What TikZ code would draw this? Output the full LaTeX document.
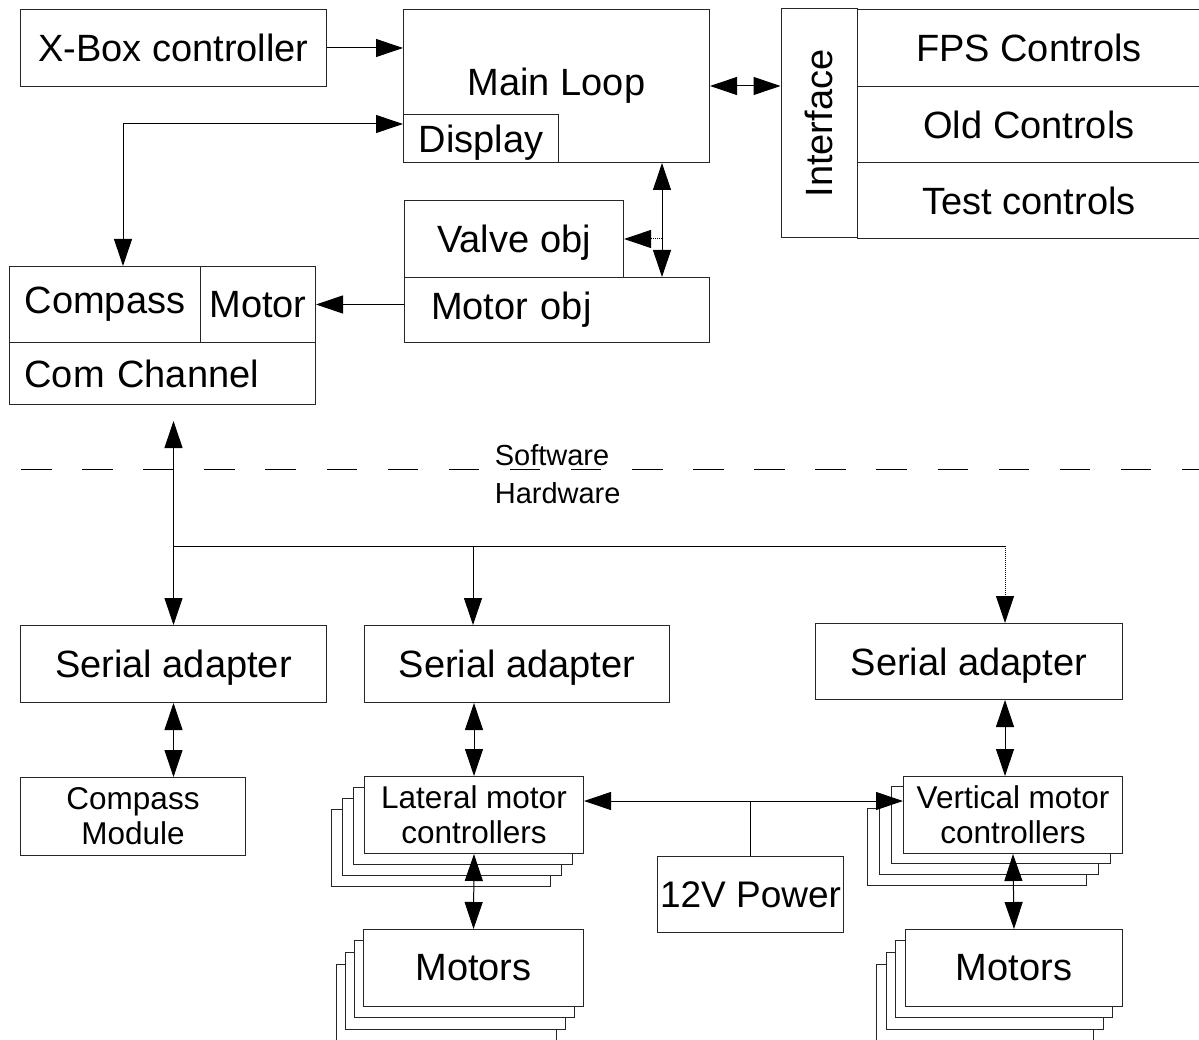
\documentclass[tikz,border=0pt]{standalone}
\usepackage{fontspec}
\setmainfont{Liberation Sans}
\usetikzlibrary{arrows.meta}

\begin{document}
\begin{tikzpicture}[x=1pt, y=-1pt, line width=1pt,
  >={Triangle[length=27pt,width=18pt]},
  blk/.style={draw=black!85, fill=white, inner sep=0pt, anchor=north west,
    font=\fontsize{38}{42}\selectfont},
  small/.style={font=\fontsize{31.5}{35}\selectfont, align=center},
  layer/.style={draw=black!85, fill=white}
  ]
  \clip (0,0) rectangle (1199,1040);

  % software side
  \node[blk, minimum width=306pt, minimum height=77pt] (xbox) at (20,9) {X-Box controller};
  \node[blk, minimum width=306pt, minimum height=153pt] (mainloop) at (403,9) {Main Loop};
  \node[blk, minimum width=155pt, minimum height=48pt, text depth=0pt] (display) at (403,114) {Display};
  \node[draw=black!85, inner sep=0pt, rotate=90, minimum width=229pt, minimum height=76pt,
    font=\fontsize{38}{42}\selectfont] (iface) at (819,123.5) {Interface};
  \node[blk, minimum width=343pt, minimum height=77pt] (fps) at (857,9) {FPS Controls};
  \node[blk, minimum width=343pt, minimum height=76pt] (oldc) at (857,86) {Old Controls};
  \node[blk, minimum width=343pt, minimum height=76pt] (testc) at (857,162) {Test controls};
  \node[blk, minimum width=219pt, minimum height=77pt, text depth=0pt] (valve) at (404,200) {Valve obj};
  \node[blk, minimum width=305pt, minimum height=65pt, text width=252pt, inner xsep=26.5pt,
    align=left] (motorobj) at (404,277) {Motor obj};
  \node[blk, minimum width=191pt, minimum height=76pt] (compass) at (9,266) {Compass};
  \node[blk, minimum width=115pt, minimum height=76pt] (motorc) at (200,266) {Motor};
  \node[blk, minimum width=306pt, minimum height=62pt, text width=276pt, inner xsep=15pt,
    align=left] (comch) at (9,342) {Com Channel};

  \draw[dash pattern=on 30.5pt off 30.6pt] (21,469) -- (1199,469);
  \node[font=\fontsize{29}{38}\selectfont, align=left, anchor=west] (swhw) at (491,474) {Software\\Hardware};

  % hardware side
  \node[blk, minimum width=306pt, minimum height=77pt, text depth=0pt] (serial1) at (20,625) {Serial adapter};
  \node[blk, minimum width=305pt, minimum height=77pt, text depth=0pt] (serial2) at (364,625) {Serial adapter};
  \node[blk, minimum width=307pt, minimum height=76pt, text depth=0pt] (serial3) at (815,623) {Serial adapter};
  \node[blk, small, minimum width=225pt, minimum height=78pt] (cmod) at (20,777) {Compass\\Module};

  \foreach \i in {3,2,1}{
    \draw[layer] (364-11*\i, 776+11.3*\i) rectangle +(219,77);
    \draw[layer] (903-11.7*\i, 776+10.8*\i) rectangle +(219,77);
    \draw[layer] (363-8.8*\i, 929+11.9*\i) rectangle +(220,77);
    \draw[layer] (905-9.5*\i, 929+11.9*\i) rectangle +(217,77);
  }
  \node[blk, small, minimum width=219pt, minimum height=77pt] (lmc) at (364,776) {Lateral motor\\controllers};
  \node[blk, small, minimum width=219pt, minimum height=77pt] (vmc) at (903,776) {Vertical motor\\controllers};
  \node[blk, minimum width=220pt, minimum height=77pt] (lmot) at (363,929) {Motors};
  \node[blk, minimum width=217pt, minimum height=77pt] (vmot) at (905,929) {Motors};
  \node[blk, minimum width=186pt, minimum height=76pt, font=\fontsize{37}{40}\selectfont] (power) at (657,856) {12V Power};

  % connectors
  \coordinate (dcorner) at (123,124);
  \coordinate (hub) at (173,546);
  \coordinate (drop2) at (473,546);
  \coordinate (drop3) at (1005,546);
  \coordinate (pj) at (750,801);

  \draw[->] (xbox.east) -- (xbox.east -| mainloop.west);
  \draw[<->] (compass.north -| dcorner) -- (dcorner) -- (dcorner -| display.west);
  \draw[<->] (mainloop.east) -- (mainloop.east -| iface.north);
  \draw[<->] ([xshift=-48pt]mainloop.south east) -- ([xshift=-48pt]motorobj.north east);
  \draw[->, densely dotted] ([xshift=38pt]valve.east) -- (valve.east);
  \draw[->] (motorobj.west |- motorc.east) -- (motorc.east);

  \draw[<->] ([yshift=-16pt]comch.south -| serial1.north) -- (serial1.north);
  \draw (hub) -- (drop3);
  \draw[->] (drop2) -- (drop2 |- serial2.north);
  \draw[->, densely dotted] (drop3) -- (drop3 |- serial3.north);

  \draw[<->] (serial1.south) -- (serial1.south |- cmod.north);
  \draw[<->] (serial2.south -| lmc.north) -- (lmc.north);
  \draw[<->] (serial3.south -| drop3) -- (vmc.north -| drop3);
  \draw[<->] (lmc.south) -- (lmot.north);
  \draw[<->] (vmc.south) -- (vmot.north);
  \draw (power.north) -- (power.north |- pj);
  \draw[<->] (lmc.east |- pj) -- (vmc.west |- pj);
\end{tikzpicture}
\end{document}
